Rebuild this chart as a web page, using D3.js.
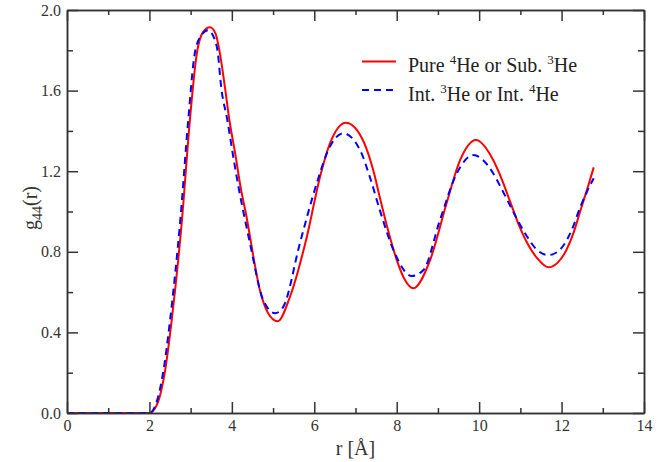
<!DOCTYPE html>
<html>
<head>
<meta charset="utf-8">
<script src="https://cdn.jsdelivr.net/npm/d3@7"></script>
<style>
  body { margin: 0; background: #fff; }
  svg { display: block; }
  .axis path, .axis line { stroke: #333; stroke-width: 1.5; }
</style>
</head>
<body>
<div id="chart"></div>
<script>
// g44(r) data
const rPure = [0, 1.0, 2.0, 2.18, 2.38, 2.54, 2.79, 2.98, 3.15, 3.30, 3.47, 3.60, 3.71, 3.83, 3.94, 4.08, 4.21, 4.37,
  4.44, 4.68, 4.88, 5.11, 5.41, 5.82, 6.14, 6.38, 6.77, 7.05, 7.27, 7.45, 7.59, 7.80, 8.00, 8.20, 8.40, 8.81, 9.21, 9.54, 9.92, 10.34,
  10.55, 10.75, 10.99, 11.15, 11.40, 11.68, 11.90, 12.12, 12.30, 12.45, 12.62, 12.78];
const gPure = [0, 0, 0, 0.04, 0.21, 0.46, 0.96, 1.45, 1.785, 1.89, 1.915, 1.885, 1.785, 1.62, 1.454, 1.289, 1.123, 0.958,
  0.875, 0.61, 0.495, 0.455, 0.577, 0.875, 1.173, 1.338, 1.441, 1.40, 1.31, 1.19, 1.07, 0.90, 0.76, 0.66, 0.619, 0.759, 1.041, 1.256, 1.355, 1.256,
  1.16, 1.05, 0.92, 0.85, 0.77, 0.723, 0.745, 0.81, 0.90, 1.00, 1.11, 1.219];

const rInt = [0, 1.0, 2.0, 2.15, 2.34, 2.50, 2.75, 2.94, 3.10, 3.26, 3.42, 3.55, 3.66, 3.74, 3.89, 4.02, 4.16, 4.32,
  4.44, 4.76, 5.05, 5.25, 5.65, 6.06, 6.34, 6.70, 7.11, 7.35, 7.59, 7.92, 8.36, 8.65, 9.05, 9.46, 9.86, 10.34,
  10.55, 10.75, 10.99, 11.15, 11.40, 11.68, 11.90, 12.04, 12.25, 12.45, 12.62, 12.78];
const gInt = [0, 0, 0, 0.04, 0.21, 0.46, 0.96, 1.45, 1.785, 1.875, 1.90, 1.87, 1.785, 1.62, 1.454, 1.289, 1.123, 0.958,
  0.842, 0.561, 0.495, 0.528, 0.842, 1.14, 1.305, 1.388, 1.305, 1.17, 1.007, 0.809, 0.68, 0.71, 0.958, 1.19, 1.28, 1.19,
  1.11, 1.03, 0.935, 0.88, 0.81, 0.784, 0.80, 0.83, 0.91, 1.02, 1.10, 1.165];

const xMajor = [0, 2, 4, 6, 8, 10, 12, 14];
const xMinor = [1, 3, 5, 7, 9, 11, 13];
const yMajor = [0, 0.4, 0.8, 1.2, 1.6, 2.0];
const yMinor = [0.2, 0.6, 1.0, 1.4, 1.8];

const width = 666, height = 462;
const margin = {top: 10, right: 22, bottom: 49, left: 67};
const iw = width - margin.left - margin.right;
const ih = height - margin.top - margin.bottom;
const serif = "'Liberation Serif', 'Times New Roman', serif";

const svg = d3.select("#chart").append("svg")
  .attr("width", width)
  .attr("height", height);

const g = svg.append("g").attr("transform", `translate(${margin.left},${margin.top})`);

const x = d3.scaleLinear().domain([0, 14]).range([0, iw]);
const y = d3.scaleLinear().domain([0, 2]).range([ih, 0]);

const line = d3.line()
  .x(d => x(d[0]))
  .y(d => y(d[1]))
  .curve(d3.curveMonotoneX);

g.append("path")
  .datum(d3.zip(rPure, gPure))
  .attr("fill", "none")
  .attr("stroke", "#ff0000")
  .attr("stroke-width", 2)
  .attr("d", line);

g.append("path")
  .datum(d3.zip(rInt, gInt))
  .attr("fill", "none")
  .attr("stroke", "#0000ff")
  .attr("stroke-width", 2)
  .attr("stroke-dasharray", "7,5")
  .attr("d", line);

// axes, ticks pointing inward on all four sides
function addAxis(axis, tr) {
  const a = g.append("g").attr("class", "axis").attr("transform", tr).call(axis);
  a.attr("font-family", serif).attr("font-size", 16);
  a.selectAll("text").style("font-family", serif).style("font-size", "16px").attr("fill", "#333");
  return a;
}
addAxis(d3.axisBottom(x).tickValues(xMajor).tickSize(-11).tickSizeOuter(0).tickPadding(7).tickFormat(d3.format("d")), `translate(0,${ih})`);
addAxis(d3.axisBottom(x).tickValues(xMinor).tickSize(-5).tickSizeOuter(0).tickFormat(""), `translate(0,${ih})`);
addAxis(d3.axisTop(x).tickValues(xMajor).tickSize(-11).tickSizeOuter(0).tickFormat(""), "translate(0,0)");
addAxis(d3.axisTop(x).tickValues(xMinor).tickSize(-5).tickSizeOuter(0).tickFormat(""), "translate(0,0)");
addAxis(d3.axisLeft(y).tickValues(yMajor).tickSize(-11).tickSizeOuter(0).tickPadding(6).tickFormat(d3.format(".1f")), "translate(0,0)");
addAxis(d3.axisLeft(y).tickValues(yMinor).tickSize(-6).tickSizeOuter(0).tickFormat(""), "translate(0,0)");
addAxis(d3.axisRight(y).tickValues(yMajor).tickSize(-11).tickSizeOuter(0).tickFormat(""), `translate(${iw},0)`);
addAxis(d3.axisRight(y).tickValues(yMinor).tickSize(-6).tickSizeOuter(0).tickFormat(""), `translate(${iw},0)`);

// axis titles
svg.append("text")
  .attr("x", margin.left + iw / 2)
  .attr("y", 455)
  .attr("text-anchor", "middle")
  .style("font-family", serif)
  .style("font-size", "20px")
  .attr("fill", "#333")
  .text("r [Å]");

const yl = svg.append("text")
  .attr("transform", "translate(37,208) rotate(-90)")
  .attr("text-anchor", "middle")
  .style("font-family", serif)
  .style("font-size", "20px")
  .attr("fill", "#333");
yl.append("tspan").text("g");
yl.append("tspan").style("font-size", "14px").attr("dy", 5).text("44");
yl.append("tspan").attr("dy", -5).text("(r)");

// legend
const legendItems = [
  {color: "#ff0000", dash: null, parts: ["Pure ", "4", "He or Sub. ", "3", "He"]},
  {color: "#0000ff", dash: "7,5", parts: ["Int. ", "3", "He or Int. ", "4", "He"]}
];
legendItems.forEach((it, i) => {
  const ly = 61.5 + i * 28.5;
  svg.append("line")
    .attr("x1", 362).attr("x2", 396)
    .attr("y1", ly).attr("y2", ly)
    .attr("stroke", it.color)
    .attr("stroke-width", 2)
    .attr("stroke-dasharray", it.dash);
  const t = svg.append("text")
    .attr("x", 408)
    .attr("y", ly + 10.5)
    .style("font-family", serif)
    .style("font-size", "20px")
    .attr("fill", "#222");
  it.parts.forEach((p, j) => {
    const sup = j % 2 === 1;
    t.append("tspan")
      .style("font-size", sup ? "13px" : "20px")
      .attr("dy", j === 0 ? 0 : (sup ? -8 : 8))
      .text(p);
  });
});
</script>
</body>
</html>
